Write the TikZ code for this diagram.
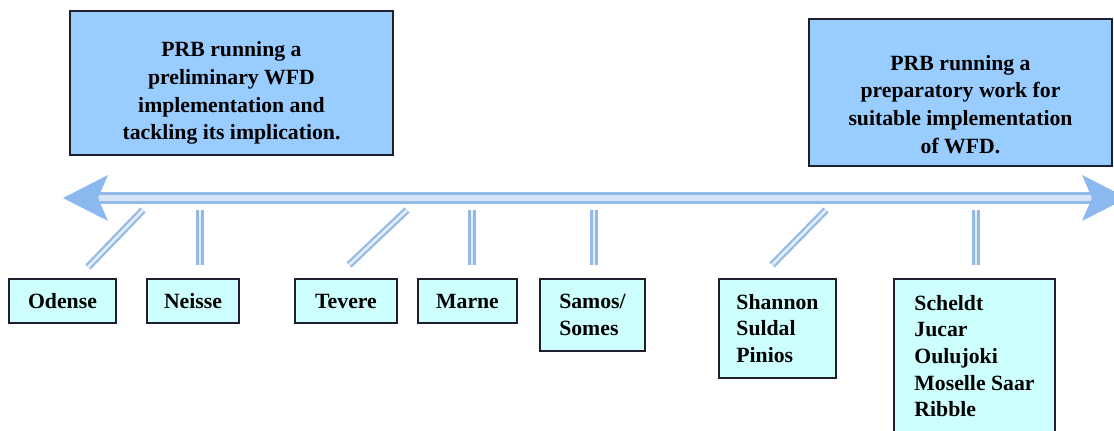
\documentclass[tikz,border=0pt]{standalone}
\usepackage{fontspec}
\setmainfont{Liberation Serif}
\usetikzlibrary{calc}

\definecolor{phasefill}{RGB}{153,204,255}
\definecolor{riverfill}{RGB}{206,255,255}
\definecolor{linkblue}{RGB}{148,186,232}
\definecolor{headblue}{RGB}{140,184,240}
\definecolor{boxline}{RGB}{30,30,45}

\begin{document}
\begin{tikzpicture}[x=0.75pt,y=-0.75pt,
    phase/.style={draw=boxline,line width=1.1pt,fill=phasefill,inner sep=0pt,align=center,
        font=\fontsize{16.3}{20.8}\selectfont\bfseries},
    river/.style={draw=boxline,line width=1.1pt,fill=riverfill,inner sep=0pt,align=left,
        minimum height=33pt,font=\fontsize{16.3}{20}\selectfont\bfseries},
    link/.style={draw=linkblue,line width=1.7pt,double=linkblue!25,double distance=2pt},
    shaft/.style={draw=linkblue,line width=2pt,double=linkblue!40,double distance=5pt},
    head/.style={fill=headblue}]
        \useasboundingbox (0,0) rectangle (1114,430);
        \clip (0,0) rectangle (1114,430);

        % the two phases above the time line (rule pushes the text down a bit)
        \node[phase,minimum width=242pt,minimum height=108pt] (early) at (231.5,83)
            {\rule{0pt}{26.5pt}PRB running a\\preliminary WFD\\implementation and\\tackling its implication.};
        \node[phase,minimum width=227pt,minimum height=110pt] (late) at (960.5,92.5)
            {\rule{0pt}{29pt}PRB running a\\preparatory work for\\suitable implementation\\of WFD.};

        % time line, arrow heads on both ends
        \coordinate (west) at (63,198);
        \coordinate (east) at (1127,198);
        \draw[shaft] ($(west)+(34,0)$) -- ($(east)+(-34,0)$);
        \fill[head] (west) -- ++(45,-23) -- ++(-10,23) -- ++(10,23) -- cycle;
        \fill[head] (east) -- ++(-45,-23) -- ++(10,23) -- ++(-10,23) -- cycle;

        % river basins
        \node[river,minimum width=80pt] (odense) at (62.5,301) {Odense};
        \node[river,minimum width=69pt] (neisse) at (193,301) {Neisse};
        \node[river,minimum width=76.5pt] (tevere) at (346,301) {Tevere};
        \node[river,minimum width=74pt] (marne) at (467.5,301) {Marne};
        \node[river,minimum width=79pt,minimum height=54pt] (samos) at (592.5,315) {Samos/\\Somes};
        \node[river,minimum width=88pt,minimum height=74pt] (shannon) at (777.5,328.5) {Shannon\\Suldal\\Pinios};
        \node[river,minimum width=121pt,minimum height=115.5pt] (scheldt) at (974.5,356)
            {Scheldt\\Jucar\\Oulujoki\\Moselle Saar\\Ribble};

        % ticks between time line and basins
        \coordinate (odense-t) at (143,210);  \coordinate (odense-b) at (88,267);
        \coordinate (neisse-t) at (200,210);  \coordinate (neisse-b) at (200,265);
        \coordinate (tevere-t) at (407,210);  \coordinate (tevere-b) at (349,265);
        \coordinate (marne-t) at (472,210);   \coordinate (marne-b) at (472,265);
        \coordinate (samos-t) at (594,210);   \coordinate (samos-b) at (594,265);
        \coordinate (shannon-t) at (826,210); \coordinate (shannon-b) at (772,265);
        \coordinate (scheldt-t) at (976,210); \coordinate (scheldt-b) at (976,265);

        \draw[link] (odense-t) -- (odense-b);
        \draw[link] (neisse-t) -- (neisse-b);
        \draw[link] (tevere-t) -- (tevere-b);
        \draw[link] (marne-t) -- (marne-b);
        \draw[link] (samos-t) -- (samos-b);
        \draw[link] (shannon-t) -- (shannon-b);
        \draw[link] (scheldt-t) -- (scheldt-b);
    \end{tikzpicture}
\end{document}
